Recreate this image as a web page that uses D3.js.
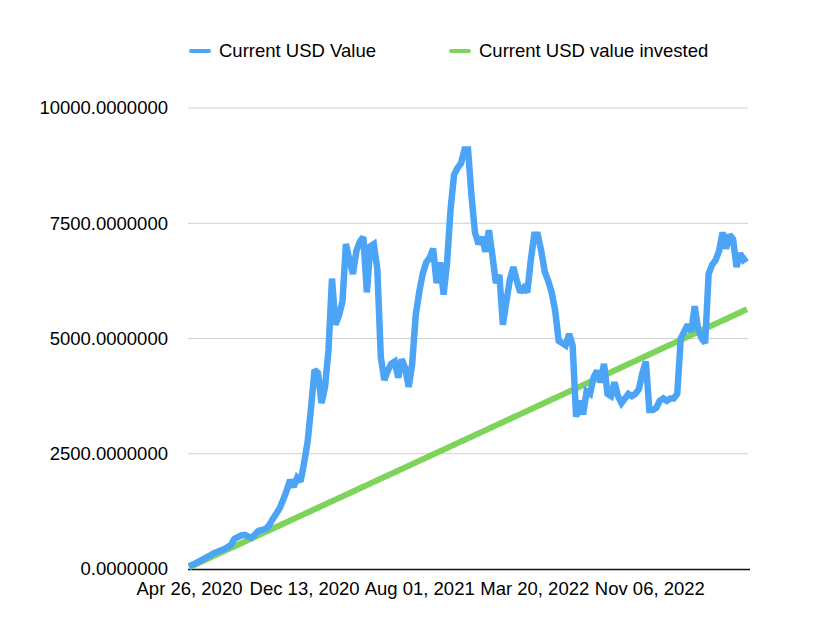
<!DOCTYPE html>
<html>
<head>
<meta charset="utf-8">
<script src="https://cdn.jsdelivr.net/npm/d3@7"></script>
<style>
  html, body { margin: 0; padding: 0; background: #fff; }
  svg text { font-family: "Liberation Sans", Arial, Helvetica, sans-serif; fill: #000; }
</style>
</head>
<body>
<svg id="chart" width="822" height="620"></svg>
<script>
// ---- Data (weekly, starting Apr 26, 2020) ----
const seriesNames = ["Current USD Value", "Current USD value invested"];
const currentValue = [
  60,90,130,170,210,250,290,340,370,400,
  430,470,520,650,690,730,740,700,680,760,
  830,850,870,950,1080,1200,1320,1500,1700,1930,
  1780,1980,1900,2300,2750,3500,4320,4250,3600,3950,
  4750,6300,5300,5500,5800,7050,6700,6400,6900,7100,
  7200,6000,7000,7050,6500,4600,4100,4300,4450,4500,
  4150,4550,4350,3950,4450,5500,6000,6400,6650,6750,
  6950,6200,6650,5950,6650,7800,8550,8700,8800,9100,
  9100,8100,7300,7050,7200,6880,7350,6800,6200,6380,
  5300,5800,6270,6550,6250,6000,6100,6000,6700,7250,
  7250,6900,6450,6250,6000,5600,4950,4900,4850,5100,
  4850,3300,3650,3350,3850,3800,4150,4300,4050,4450,
  3800,3750,4050,3750,3600,3700,3800,3750,3800,3900,
  4250,4500,3450,3450,3500,3650,3700,3650,3700,3700,
  3800,5000,5150,5300,5150,5700,5200,5000,4900,6400,
  6600,6700,6900,7300,6950,7250,7150,6550,6850,6700,
  6750
];
const investedValue = [
  35,70,105,140,175,210,245,280,315,350,
  385,420,455,490,525,560,595,630,665,700,
  735,770,805,840,875,910,945,980,1015,1050,
  1085,1120,1155,1190,1225,1260,1295,1330,1365,1400,
  1435,1470,1505,1540,1575,1610,1645,1680,1715,1750,
  1785,1820,1855,1890,1925,1960,1995,2030,2065,2100,
  2135,2170,2205,2240,2275,2310,2345,2380,2415,2450,
  2485,2520,2555,2590,2625,2660,2695,2730,2765,2800,
  2835,2870,2905,2940,2975,3010,3045,3080,3115,3150,
  3185,3220,3255,3290,3325,3360,3395,3430,3465,3500,
  3535,3570,3605,3640,3675,3710,3745,3780,3815,3850,
  3885,3920,3955,3990,4025,4060,4095,4130,4165,4200,
  4235,4270,4305,4340,4375,4410,4445,4480,4515,4550,
  4585,4620,4655,4690,4725,4760,4795,4830,4865,4900,
  4935,4970,5005,5040,5075,5110,5145,5180,5215,5250,
  5285,5320,5355,5390,5425,5460,5495,5530,5565,5600,
  5635
];
const xTickIndex = [0, 33, 66, 99, 132];
const xTickLabels = ["Apr 26, 2020", "Dec 13, 2020", "Aug 01, 2021", "Mar 20, 2022", "Nov 06, 2022"];
const yTickValues = [0, 2500, 5000, 7500, 10000];
const colors = ["#4ca4f6", "#7ed35a"];

// ---- Layout ----
const svg = d3.select("#chart");
const plotLeft = 189, plotRight = 748, plotTop = 108, plotBottom = 569;
const fontSize = 18.5;

const x = d3.scaleLinear().domain([0, currentValue.length - 1]).range([plotLeft, plotRight - 1]);
const y = d3.scaleLinear().domain([0, 10000]).range([plotBottom, plotTop]);

// gridlines
svg.append("g")
  .selectAll("line")
  .data(yTickValues.filter(v => v > 0))
  .join("line")
  .attr("x1", plotLeft - 1).attr("x2", plotRight)
  .attr("y1", d => y(d)).attr("y2", d => y(d))
  .attr("stroke", "#cfcfcf").attr("stroke-width", 1);

// y axis labels
const yAxis = d3.axisLeft(y).tickValues(yTickValues)
  .tickFormat(d => d3.format(".7f")(d)).tickSize(0).tickPadding(0);
const yg = svg.append("g").attr("transform", `translate(${168},0)`).call(yAxis);
yg.select(".domain").remove();
yg.selectAll("text").attr("font-size", fontSize).attr("font-family", "Liberation Sans, Arial, sans-serif").attr("fill", "#000");

// x baseline
svg.append("line")
  .attr("x1", plotLeft - 1).attr("x2", plotRight + 2)
  .attr("y1", plotBottom + 0.5).attr("y2", plotBottom + 0.5)
  .attr("stroke", "#111").attr("stroke-width", 1.5);

// x axis labels
const xAxis = d3.axisBottom(x).tickValues(xTickIndex)
  .tickFormat((d, i) => xTickLabels[i]).tickSize(0).tickPadding(0);
const xg = svg.append("g").attr("transform", `translate(0,${plotBottom + 13})`).call(xAxis);
xg.select(".domain").remove();
xg.selectAll("text").attr("font-size", fontSize).attr("font-family", "Liberation Sans, Arial, sans-serif").attr("fill", "#000");

// lines
const line = d3.line().x((d, i) => x(i)).y(d => y(d));
svg.append("path").datum(investedValue)
  .attr("d", line).attr("fill", "none")
  .attr("stroke", colors[1]).attr("stroke-width", 6)
  .attr("stroke-linejoin", "round").attr("stroke-linecap", "butt");
svg.append("path").datum(currentValue)
  .attr("d", line).attr("fill", "none")
  .attr("stroke", colors[0]).attr("stroke-width", 6.5)
  .attr("stroke-linejoin", "miter").attr("stroke-miterlimit", 2).attr("stroke-linecap", "butt");

// legend
const legendItems = [
  { name: seriesNames[0], color: colors[0], x: 191 },
  { name: seriesNames[1], color: colors[1], x: 451 }
];
const lg = svg.append("g").selectAll("g").data(legendItems).join("g")
  .attr("transform", d => `translate(${d.x},51)`);
lg.append("line").attr("x1", 0).attr("x2", 18).attr("y1", 0).attr("y2", 0)
  .attr("stroke", d => d.color).attr("stroke-width", 4).attr("stroke-linecap", "round");
lg.append("text").attr("x", 28).attr("y", 0).attr("dy", "0.35em")
  .attr("font-size", fontSize).text(d => d.name);
</script>
</body>
</html>
